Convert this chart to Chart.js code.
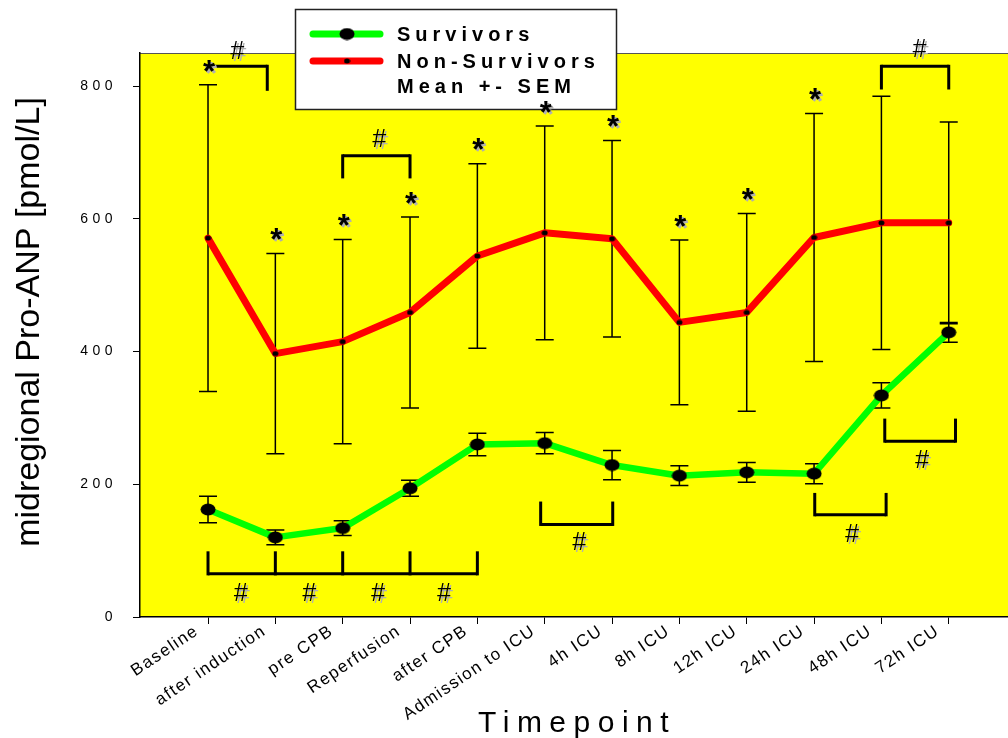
<!DOCTYPE html>
<html>
<head>
<meta charset="utf-8">
<title>midregional Pro-ANP</title>
<script src="https://cdn.jsdelivr.net/npm/chart.js@4.4.1/dist/chart.umd.min.js"></script>
<style>
  html, body { margin: 0; padding: 0; background: #ffffff; }
  #wrap { width: 1008px; height: 738px; position: relative; }
  #chart { display: block; }
</style>
</head>
<body>
<div id="wrap"><canvas id="chart" width="1008" height="738"></canvas></div>
<script>
// ---- data ----------------------------------------------------------------
const timepoints = ['Baseline', 'after induction', 'pre CPB', 'Reperfusion', 'after CPB',
  'Admission to ICU', '4h ICU', '8h ICU', '12h ICU', '24h ICU', '48h ICU', '72h ICU'];
const survivorsMean = [162, 120, 134, 194, 260, 262, 229, 213, 218, 216, 334, 429];
const survivorsSem = [20, 11, 11, 12, 17, 16, 22, 15, 15, 15, 19, 15];
const nonSurvivorsMean = [571, 397, 415, 459, 544, 579, 570, 444, 459, 572, 594, 594];
const nonSurvivorsSem = [231, 151, 154, 144, 139, 161, 148, 124, 149, 187, 191, 152];
const yTicks = [0, 200, 400, 600, 800];

// timepoints where non-survivors differ from survivors (*)
const starTimepoints = [0, 1, 2, 3, 4, 5, 6, 7, 8, 9];
// within-group comparisons (#): bracket span on the time axis, bar level, leg end level, label position
const brackets = [
  { from: 0.06, to: 0.88, bar: 830, leg: 793, legs: [0.88], mark: [[0.43, 852]] },
  { from: 2, to: 3, bar: 695, leg: 661, legs: [2, 3], mark: [[2.54, 719]] },
  { from: 10, to: 11, bar: 830, leg: 795, legs: [10, 11], mark: [[10.56, 855]] },
  { from: 0, to: 4, bar: 65, leg: 99, legs: [0, 1, 2, 3, 4], mark: [[0.48, 35], [1.5, 35], [2.52, 35], [3.5, 35]] },
  { from: 4.94, to: 6.01, bar: 139.5, leg: 174, legs: [4.94, 6.01], mark: [[5.51, 111]] },
  { from: 9.01, to: 10.07, bar: 154, leg: 187, legs: [9.01, 10.07], mark: [[9.56, 123]] },
  { from: 10.05, to: 11.1, bar: 265, leg: 299, legs: [10.05, 11.1], mark: [[10.6, 234.5]] }
];

// ---- marker shapes -------------------------------------------------------
function ellipseMarker(w, h) {
  const c = document.createElement('canvas');
  c.width = w; c.height = h;
  const g = c.getContext('2d');
  g.fillStyle = '#000';
  g.beginPath();
  g.ellipse(w / 2, h / 2, w / 2 - 0.5, h / 2 - 0.5, 0, 0, Math.PI * 2);
  g.fill();
  return c;
}
const survivorDot = ellipseMarker(16, 13);
const nonSurvivorDot = ellipseMarker(7, 6);

const FONT = '"Liberation Sans", Arial, Helvetica, sans-serif';

// ---- plugins -------------------------------------------------------------
const plotBackground = {
  id: 'plotBackground',
  beforeDraw(chart) {
    const { ctx, chartArea: a } = chart;
    ctx.save();
    ctx.fillStyle = '#ffff00';
    ctx.fillRect(a.left, a.top, a.right - a.left, a.bottom - a.top);
    ctx.strokeStyle = '#555';
    ctx.lineWidth = 1.2;
    ctx.beginPath();
    ctx.moveTo(a.left, a.top + 0.5);
    ctx.lineTo(a.right, a.top + 0.5);
    ctx.stroke();
    ctx.restore();
    // spaced lettering on the tick labels
    for (const [id, spacing] of [['x', '1.5px'], ['y', '4.5px']]) {
      const s = chart.scales[id];
      if (!s._spaced) {
        const orig = s.drawLabels.bind(s);
        s.drawLabels = (area) => {
          const c = s.ctx;
          const prev = c.letterSpacing;
          c.letterSpacing = spacing;
          orig(area);
          c.letterSpacing = prev;
        };
        s._spaced = true;
      }
    }
  }
};

const errorBars = {
  id: 'errorBars',
  beforeDatasetsDraw(chart) {
    const { ctx, scales: { x, y } } = chart;
    const groups = [[nonSurvivorsMean, nonSurvivorsSem], [survivorsMean, survivorsSem]];
    ctx.save();
    ctx.strokeStyle = '#000';
    ctx.lineWidth = 1.5;
    const cap = 9;
    for (const [mean, sem] of groups) {
      mean.forEach((m, i) => {
        const px = x.getPixelForValue(i);
        const top = y.getPixelForValue(m + sem[i]);
        const bot = y.getPixelForValue(m - sem[i]);
        ctx.beginPath();
        ctx.moveTo(px, top); ctx.lineTo(px, bot);
        ctx.moveTo(px - cap, top); ctx.lineTo(px + cap, top);
        ctx.moveTo(px - cap, bot); ctx.lineTo(px + cap, bot);
        ctx.stroke();
      });
    }
    ctx.restore();
  }
};

function shadowText(ctx, text, px, py) {
  ctx.fillStyle = '#b0b0b0';
  ctx.fillText(text, px + 2, py + 2);
  ctx.fillStyle = '#000';
  ctx.fillText(text, px, py);
}

const legendBox = {
  id: 'legendBox',
  afterDraw(chart) {
    const { ctx } = chart;
    ctx.save();
    ctx.fillStyle = '#fff';
    ctx.fillRect(295, 9, 322, 101);
    ctx.strokeStyle = '#222';
    ctx.lineWidth = 1.5;
    ctx.strokeRect(295.5, 9.5, 321, 100);
    ctx.lineCap = 'round';
    ctx.lineWidth = 7;
    ctx.strokeStyle = '#00ff00';
    ctx.beginPath(); ctx.moveTo(313, 34); ctx.lineTo(380, 34); ctx.stroke();
    ctx.strokeStyle = '#ff0000';
    ctx.beginPath(); ctx.moveTo(313, 61); ctx.lineTo(380, 61); ctx.stroke();
    ctx.drawImage(survivorDot, 347 - 8, 34 - 6.5);
    ctx.drawImage(nonSurvivorDot, 347 - 3.5, 61 - 3);
    ctx.fillStyle = '#000';
    ctx.font = 'bold 20px ' + FONT;
    ctx.letterSpacing = '5px';
    ctx.textAlign = 'left';
    ctx.textBaseline = 'alphabetic';
    ctx.fillText('Survivors', 397, 41);
    ctx.fillText('Non-Survivors', 397, 68);
    ctx.fillText('Mean +- SEM', 397, 93);
    ctx.letterSpacing = '0px';
    ctx.restore();
  }
};

const significance = {
  id: 'significance',
  afterDraw(chart) {
    const { ctx, scales: { x, y } } = chart;
    ctx.save();
    // brackets
    ctx.strokeStyle = '#000';
    ctx.lineWidth = 3;
    ctx.lineCap = 'butt';
    ctx.lineJoin = 'miter';
    for (const b of brackets) {
      const yb = y.getPixelForValue(b.bar);
      const yl = y.getPixelForValue(b.leg);
      ctx.beginPath();
      ctx.moveTo(x.getPixelForValue(b.from), yb);
      ctx.lineTo(x.getPixelForValue(b.to), yb);
      ctx.stroke();
      for (const l of b.legs) {
        ctx.beginPath();
        ctx.moveTo(x.getPixelForValue(l), yb + (yl > yb ? -1.5 : 1.5));
        ctx.lineTo(x.getPixelForValue(l), yl);
        ctx.stroke();
      }
    }
    // # labels
    ctx.font = 'italic 25px ' + FONT;
    ctx.textAlign = 'center';
    ctx.textBaseline = 'middle';
    for (const b of brackets) {
      for (const [mx, my] of b.mark) {
        shadowText(ctx, '#', x.getPixelForValue(mx), y.getPixelForValue(my));
      }
    }
    // asterisks above the non-survivor error bars
    ctx.font = 'bold 31px ' + FONT;
    ctx.textBaseline = 'alphabetic';
    for (const i of starTimepoints) {
      const px = x.getPixelForValue(i) + 1;
      const capY = y.getPixelForValue(nonSurvivorsMean[i] + nonSurvivorsSem[i]);
      shadowText(ctx, '*', px, capY - 21 + 0.57 * 31);
    }
    ctx.restore();
  }
};

const axisTitles = {
  id: 'axisTitles',
  afterDraw(chart) {
    const { ctx } = chart;
    ctx.save();
    ctx.fillStyle = '#000';
    ctx.font = '34px ' + FONT;
    ctx.textAlign = 'center';
    ctx.textBaseline = 'alphabetic';
    ctx.translate(39, 322);
    ctx.rotate(-Math.PI / 2);
    ctx.fillText('midregional Pro-ANP [pmol/L]', 0, 0);
    ctx.restore();
    ctx.save();
    ctx.fillStyle = '#000';
    ctx.font = '30px ' + FONT;
    ctx.letterSpacing = '7.5px';
    ctx.textAlign = 'left';
    ctx.textBaseline = 'alphabetic';
    ctx.fillText('Timepoint', 478, 732);
    ctx.letterSpacing = '0px';
    ctx.restore();
  }
};

// ---- chart ---------------------------------------------------------------
new Chart(document.getElementById('chart'), {
  type: 'line',
  data: {
    datasets: [
      {
        label: 'Non-Survivors',
        data: nonSurvivorsMean.map((v, i) => ({ x: i, y: v })),
        borderColor: '#ff0000',
        borderWidth: 7,
        borderCapStyle: 'round',
        borderJoinStyle: 'round',
        pointStyle: nonSurvivorDot,
        pointRadius: 3,
        pointHoverRadius: 3,
        tension: 0,
        fill: false
      },
      {
        label: 'Survivors',
        data: survivorsMean.map((v, i) => ({ x: i, y: v })),
        borderColor: '#00ff00',
        borderWidth: 6.5,
        borderCapStyle: 'round',
        borderJoinStyle: 'round',
        pointStyle: survivorDot,
        pointRadius: 7,
        pointHoverRadius: 7,
        tension: 0,
        fill: false
      }
    ]
  },
  options: {
    responsive: false,
    maintainAspectRatio: false,
    animation: false,
    devicePixelRatio: 1,
    layout: { autoPadding: false, padding: { top: 53, right: 0, bottom: 0, left: 0 } },
    plugins: {
      legend: { display: false },
      tooltip: { enabled: false },
      title: { display: false }
    },
    scales: {
      x: {
        type: 'linear',
        min: -1.01,
        max: 11.88,
        afterBuildTicks: (s) => { s.ticks = timepoints.map((_, i) => ({ value: i })); },
        afterFit: (s) => { s.height = 121; s.paddingLeft = 0; s.paddingRight = 0; },
        grid: { display: true, drawOnChartArea: false, drawTicks: true, tickLength: 7, color: '#000', lineWidth: 1 },
        border: { display: true, color: '#000', width: 1.5 },
        ticks: {
          autoSkip: false,
          minRotation: 34,
          maxRotation: 34,
          padding: -3,
          labelOffset: -11,
          color: '#000',
          font: { family: FONT, size: 17 },
          callback: (v) => timepoints[v]
        }
      },
      y: {
        type: 'linear',
        min: 0,
        max: 850,
        afterBuildTicks: (s) => { s.ticks = yTicks.map((v) => ({ value: v })); },
        afterFit: (s) => { s.width = 140; s.paddingTop = 0; s.paddingBottom = 0; },
        grid: { display: true, drawOnChartArea: false, drawTicks: true, tickLength: 7, color: '#000', lineWidth: 1 },
        border: { display: true, color: '#000', width: 1.5 },
        ticks: {
          padding: 16,
          color: '#000',
          font: { family: FONT, size: 14 },
          callback: (v) => String(v)
        }
      }
    }
  },
  plugins: [plotBackground, errorBars, legendBox, significance, axisTitles]
});
</script>
</body>
</html>
